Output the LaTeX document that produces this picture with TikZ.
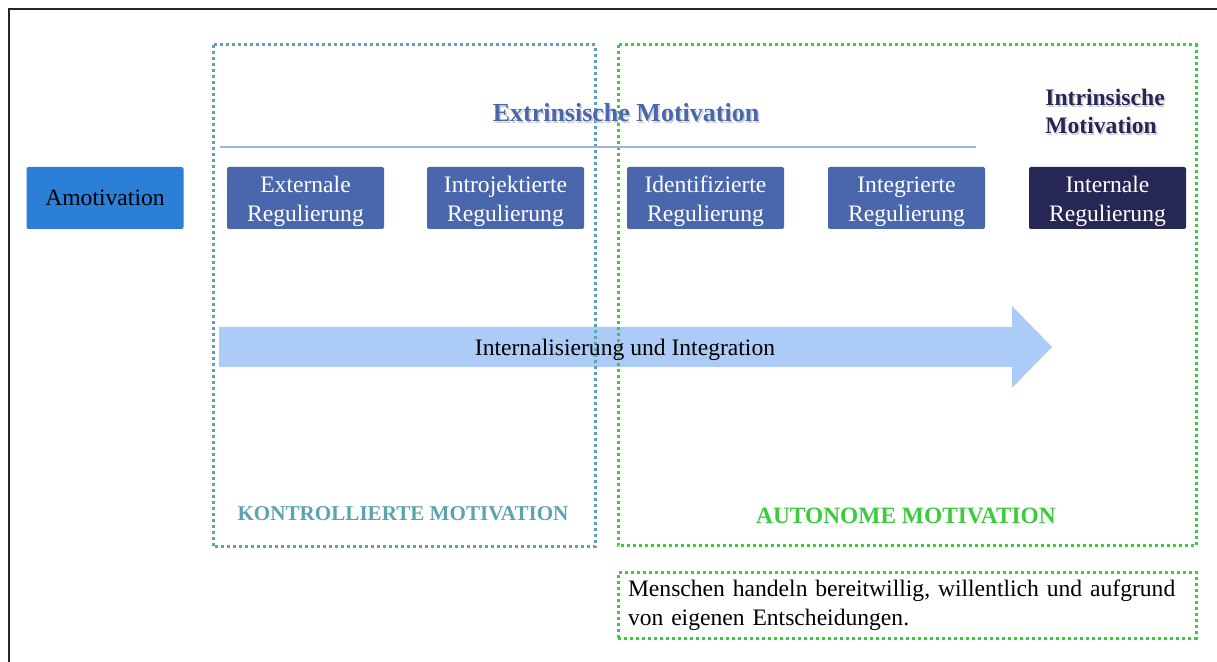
\documentclass[tikz,border=0pt]{standalone}
\usepackage{fontspec}
\setmainfont{Liberation Serif}
\definecolor{amot}{HTML}{2B7FD6}
\definecolor{reg}{HTML}{4A66AC}
\definecolor{intreg}{HTML}{262754}
\definecolor{hline}{HTML}{A3B3DB}
\definecolor{tealc}{HTML}{5BA3AF}
\definecolor{greenc}{HTML}{3ACC3A}
\definecolor{arrowc}{HTML}{ADCBF7}
\newcommand{\twolines}[2]{\raisebox{-1.5pt}[\height][\depth]{\begin{tabular}{@{}c@{}}#1\\#2\end{tabular}}}
\tikzset{
  regbox/.style={rectangle, rounded corners=1pt, fill=reg, text=white, align=center,
    minimum width=78.5pt, minimum height=31pt, inner sep=0pt,
    font=\fontsize{11.8}{14.5}\selectfont},
  dotbox/.style={line width=1.5pt, dash pattern=on 1.5pt off 1.5pt},
  headtxt/.style={font=\fontsize{13}{15}\selectfont\bfseries},
  bodytxt/.style={font=\fontsize{11.8}{14.5}\selectfont},
}
\begin{document}
\begin{tikzpicture}[x=0.5pt,y=-0.5pt]
\useasboundingbox (0,0) rectangle (1217,662);
\fill[white] (0,0) rectangle (1217,662);
% outer frame (left and top visible)
\draw[line width=1pt, black!85] (8.5,662) -- (8.5,9.5) -- (1217,9.5);
% arrow
\fill[arrowc] (219,327) -- (1012,327) -- (1012,306) -- (1052,347) -- (1012,388) -- (1012,367) -- (219,367) -- cycle;
% dotted groups
\draw[dotbox, tealc] (213,45) rectangle (595,547);
\draw[dotbox, greenc] (618,45) rectangle (1196,546);
% header line
\draw[hline, line width=0.8pt] (220,147) -- (976,147);
% headings
\node[headtxt, text=black!18] at (627.5,114.5) {Extrinsische Motivation};
\node[headtxt, text=reg] (extr) at (626,113) {Extrinsische Motivation};
\node[font=\fontsize{11.8}{14}\selectfont\bfseries, text=black!18, align=left, anchor=north west, inner sep=0pt] at (1046.5,90.5) {Intrinsische\\Motivation};
\node[font=\fontsize{11.8}{14}\selectfont\bfseries, text=intreg, align=left, anchor=north west, inner sep=0pt] (intr) at (1045,89) {Intrinsische\\Motivation};
% boxes
\node[regbox, fill=amot, text=black] (amo) at (105,198) {Amotivation};
\node[regbox] (ext) at (305.5,198) {\twolines{Externale}{Regulierung}};
\node[regbox] (intro) at (505.5,198) {\twolines{Introjektierte}{Regulierung}};
\node[regbox] (ident) at (705.5,198) {\twolines{Identifizierte}{Regulierung}};
\node[regbox] (integ) at (906.5,198) {\twolines{Integrierte}{Regulierung}};
\node[regbox, fill=intreg] (inter) at (1107.5,198) {\twolines{Internale}{Regulierung}};
% arrow label
\node[bodytxt] (arrtxt) at (625,350) {Internalisierung und Integration};
% group labels
\node[font=\fontsize{10.55}{12}\selectfont\bfseries, text=tealc] (kont) at (403,514) {KONTROLLIERTE MOTIVATION};
\node[font=\fontsize{11.7}{13}\selectfont\bfseries, text=greenc] (auto) at (906,516) {AUTONOME MOTIVATION};
% description box
\node[dotbox, draw=greenc, bodytxt, rectangle, minimum width=289pt, minimum height=33pt,
  inner xsep=5pt, inner ysep=0pt, text width=279pt, align=left] (desc) at (907,605.5)
  {Menschen handeln bereitwillig, willentlich und aufgrund\\von eigenen Entscheidungen.};
\end{tikzpicture}
\end{document}
